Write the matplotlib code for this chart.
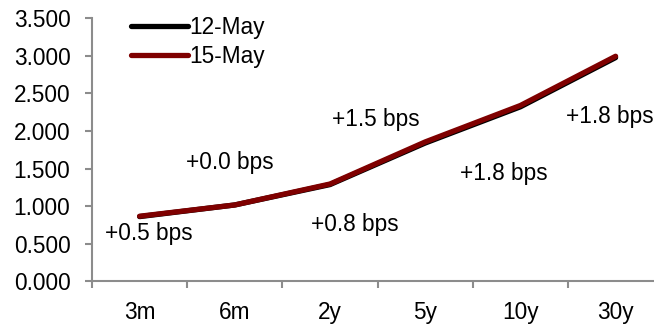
import matplotlib
matplotlib.use("Agg")
import matplotlib.pyplot as plt
import numpy as np

plt.rcParams['font.family'] = ['Liberation Sans', 'DejaVu Sans']

tenors = ["3m", "6m", "2y", "5y", "10y", "30y"]
yield_15may = [0.866, 1.016, 1.295, 1.855, 2.340, 2.995]
change_bps = [0.5, 0.0, 0.8, 1.5, 1.8, 1.8]
yield_12may = [y - c / 100 for y, c in zip(yield_15may, change_bps)]
yticks = [0.0, 0.5, 1.0, 1.5, 2.0, 2.5, 3.0, 3.5]

# where each change label sits (category index, yield level)
label_pos = [(0.10, 0.64), (0.95, 1.575), (2.26, 0.75), (2.48, 2.15), (3.83, 1.44), (4.94, 2.19)]

FS = 16.3

fig = plt.figure(figsize=(6.54, 3.26), dpi=100)
ax = fig.add_axes([92 / 654, 44.7 / 326, 571.2 / 654, 263 / 326])

x = np.arange(len(tenors))
ax.plot(x, yield_12may, color="black", lw=3.8, solid_capstyle="round", label="12-May", zorder=3)
ax.plot(x, yield_15may, color="#7f0000", lw=3.8, solid_capstyle="round", label="15-May", zorder=4)

for (px, py), c in zip(label_pos, change_bps):
    ax.text(px, py, f"+{c:.1f} bps", ha="center", va="center", fontsize=FS, color="black")

ax.set_xlim(-0.5, len(tenors) - 0.5)
ax.set_ylim(0, 3.5)
ax.set_yticks(yticks)
ax.set_yticklabels([f"{v:.3f}" for v in yticks])
ax.set_xticks(x)
ax.set_xticklabels(tenors)
ax.set_xticks(np.arange(-0.5, len(tenors), 1.0), minor=True)

spine_c = "#8c8c8c"
for s in ["top", "right"]:
    ax.spines[s].set_visible(False)
for s in ["left", "bottom"]:
    ax.spines[s].set_color(spine_c)
    ax.spines[s].set_linewidth(1.5)

ax.tick_params(axis="y", which="major", length=5, width=1.5, color=spine_c,
               labelsize=FS, pad=10.5)
ax.tick_params(axis="x", which="major", length=0, labelsize=FS, pad=14.5)
ax.tick_params(axis="x", which="minor", length=5, width=1.5, color=spine_c)

leg = ax.legend(loc="upper left", bbox_to_anchor=(0.053, 1.045), frameon=False,
                fontsize=FS, handlelength=2.5, handletextpad=0.05, labelspacing=0.3,
                borderaxespad=0)

fig.savefig("out.png", dpi=100)
